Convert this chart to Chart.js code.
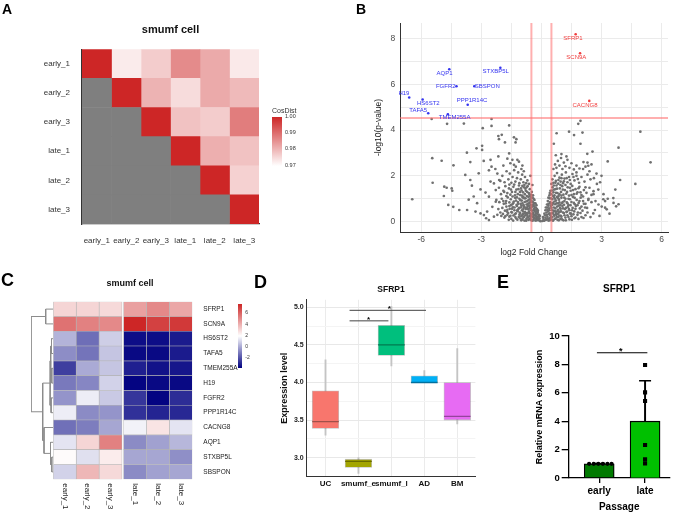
<!DOCTYPE html>
<html>
<head>
<meta charset="utf-8">
<script src="https://cdn.jsdelivr.net/npm/chart.js@4.4.1/dist/chart.umd.min.js"></script>
<style>
  body { margin:0; width:677px; height:514px; position:relative; overflow:hidden; background:#fff;
         font-family:"Liberation Sans", Arial, sans-serif; }
  canvas { position:absolute; }
  .panel { position:absolute; font-weight:bold; line-height:1; color:#000; }
  .cbt { position:absolute; line-height:1; color:#333; white-space:nowrap; }
</style>
</head>
<body>
<canvas id="chartA" width="340" height="260" style="left:0;top:0"></canvas>
<canvas id="chartB" width="337" height="260" style="left:340px;top:0"></canvas>
<canvas id="dendroC" width="26" height="254" style="left:28px;top:260px"></canvas>
<canvas id="chartC" width="260" height="254" style="left:0;top:260px"></canvas>
<canvas id="chartD" width="230" height="254" style="left:260px;top:260px"></canvas>
<canvas id="chartE" width="187" height="254" style="left:490px;top:260px"></canvas>

<div class="panel" style="left:2px;top:2px;font-size:14px">A</div>
<div class="panel" style="left:356px;top:2px;font-size:14px">B</div>
<div class="panel" style="left:1px;top:271px;font-size:18px">C</div>
<div class="panel" style="left:254px;top:273px;font-size:18px">D</div>
<div class="panel" style="left:497px;top:273px;font-size:18px">E</div>
<div id="legends"></div>

<script>
// ---------- data ----------
// A: cosine similarity between samples (upper triangle only)
const samplesA = ['early_1', 'early_2', 'early_3', 'late_1', 'late_2', 'late_3'];
const cosDist = [
  [1.000, 0.9727, 0.977, 0.986, 0.9817, 0.973],
  [null, 1.000, 0.9805, 0.9748, 0.9817, 0.9796],
  [null, null, 1.000, 0.9784, 0.977, 0.988],
  [null, null, null, 1.000, 0.981, 0.9784],
  [null, null, null, null, 1.000, 0.9763],
  [null, null, null, null, null, 1.000]
];
const cosTicks = [1.00, 0.99, 0.98, 0.97];

// B: volcano plot
const fcTicks = [-6, -3, 0, 3, 6];
const pTicks = [0, 2, 4, 6, 8];
const fcCut = [-0.5, 0.5];
const pCut = 4.53;
const upGenes = ['SFRP1', 'SCN9A', 'CACNG8'];
const upFC = [1.71, 1.93, 2.39];
const upLogP = [8.18, 7.35, 5.27];
const downGenes = ['AQP1', 'STXBP5L', 'FGFR2', 'SBSPON', 'H19', 'HS6ST2', 'PPP1R14C', 'TAFA5', 'TMEM255A'];
const downFC = [-4.6, -2.05, -4.24, -3.35, -6.6, -5.93, -3.68, -5.65, -4.67];
const downLogP = [6.65, 6.72, 5.91, 5.91, 5.42, 5.33, 5.1, 4.73, 4.69];
const bgGenes = [
  [-6.45,0.98],[-5.48,4.48],[-5.45,2.77],[-5.43,1.70],[-4.98,2.66],[-4.87,1.12],[-4.85,1.53],[-4.73,1.48],[-4.65,0.73],
  [-4.48,1.45],[-4.45,1.35],[-4.40,0.65],[-4.39,2.46],[-4.71,4.27],[-3.87,4.28],[-3.80,2.04],[-3.72,3.01],[-3.63,0.96],
  [-3.55,2.60],[-3.47,1.57],[-3.38,1.10],[-3.24,3.20],[-3.21,0.81],[-3.13,2.11],[-2.96,3.31],[-2.96,3.13],[-2.93,4.08],
  [-2.88,2.65],[-2.62,2.24],[-2.54,2.70],[-2.49,4.48],[-2.49,4.18],[-2.49,2.40],[-2.15,3.74],[-2.15,2.85],[-2.12,3.60],
  [-1.98,3.79],[-1.82,3.46],[-1.61,4.20],[-1.61,2.98],[-1.45,2.70],[-1.37,3.68],[-1.37,2.48],[-1.29,3.46],[-1.25,3.60],
  [-1.20,2.70],[-4.10,0.51],[-3.71,0.51],[-3.29,0.44],[-3.04,0.36],[-2.87,0.29],[-2.71,0.44],[-2.76,0.15],[-2.62,0.07],
  [-2.37,0.22],[-2.45,0.65],[-2.28,0.87],[-2.62,1.09],[-2.79,1.27],[-3.04,1.41],[-2.28,1.38],[-2.37,1.67],[-2.54,1.75],
  [-2.11,1.82],[-3.55,1.82],
  [-0.05,0.02],[-0.1,0.05],[-0.15,0.08],[-0.2,0.1],[-0.25,0.12],[-0.3,0.05],[-0.35,0.18],[-0.4,0.1],[-0.45,0.22],[-0.5,0.06],
  [-0.55,0.15],[-0.6,0.25],[-0.65,0.08],[-0.7,0.2],[-0.75,0.12],[-0.8,0.28],[-0.85,0.05],[-0.9,0.18],[-0.95,0.1],[-1.0,0.24],
  [-1.05,0.14],[-1.1,0.3],[-1.2,0.09],[-1.3,0.2],[-1.4,0.27],[-1.5,0.12],[-1.6,0.22],[-1.7,0.3],[-1.85,0.18],[-2.0,0.25],[-2.2,0.3],
  [-0.12,0.3],[-0.18,0.42],[-0.22,0.55],[-0.28,0.35],[-0.32,0.62],[-0.36,0.48],[-0.42,0.38],[-0.46,0.66],[-0.5,0.5],[-0.55,0.35],
  [-0.58,0.6],[-0.62,0.45],[-0.68,0.68],[-0.72,0.38],[-0.78,0.55],[-0.82,0.42],[-0.88,0.65],[-0.92,0.33],[-0.97,0.5],[-1.02,0.62],
  [-1.08,0.4],[-1.15,0.55],[-1.22,0.68],[-1.28,0.36],[-1.35,0.5],[-1.42,0.63],[-1.5,0.42],[-1.58,0.56],[-1.66,0.38],[-1.75,0.66],
  [-1.82,0.48],[-1.95,0.6],[-2.05,0.4],[-2.15,0.55],
  [-0.25,0.72],[-0.3,0.8],[-0.35,0.95],[-0.4,0.75],[-0.44,1.05],[-0.48,0.85],[-0.53,0.72],[-0.57,0.98],[-0.6,0.82],[-0.65,1.08],
  [-0.7,0.9],[-0.74,0.75],[-0.79,1.02],[-0.84,0.86],[-0.89,0.72],[-0.94,1.06],[-0.98,0.92],[-1.04,0.78],[-1.1,1.0],[-1.17,0.86],
  [-1.24,0.73],[-1.31,1.04],[-1.38,0.88],[-1.45,0.76],[-1.53,0.98],[-1.6,0.84],[-1.68,1.06],[-1.76,0.9],[-1.88,0.78],[-1.98,1.0],
  [-2.1,0.85],[-2.25,0.95],
  [-0.42,1.15],[-0.48,1.3],[-0.52,1.18],[-0.58,1.42],[-0.63,1.25],[-0.69,1.55],[-0.73,1.12],[-0.78,1.35],[-0.83,1.2],[-0.87,1.5],
  [-0.92,1.28],[-0.97,1.14],[-1.02,1.45],[-1.07,1.3],[-1.12,1.58],[-1.18,1.2],[-1.25,1.4],[-1.32,1.15],[-1.4,1.52],[-1.47,1.3],
  [-1.55,1.18],[-1.62,1.45],[-1.7,1.25],[-1.8,1.55],[-1.9,1.35],[-2.02,1.2],[-2.12,1.48],
  [-0.62,1.65],[-0.7,1.8],[-0.76,1.68],[-0.82,1.95],[-0.9,1.72],[-0.96,2.05],[-1.03,1.85],[-1.1,1.68],[-1.16,2.15],[-1.22,1.9],
  [-1.3,1.75],[-1.36,2.25],[-1.44,1.95],[-1.5,1.7],[-1.58,2.1],[-1.65,1.85],[-1.74,2.2],[-1.84,1.72],[-1.95,2.0],[-2.05,1.78],
  [-2.2,2.1],[-1.0,2.3],[-1.28,2.4],[-0.88,2.2],[-1.9,2.45],[-1.55,2.55],[-1.12,2.62],[-0.95,2.45],[-1.7,2.75],[-2.3,2.3],
  [-0.55,2.0],[-0.45,1.6],
  [-0.15,0.25],[-0.2,0.35],[-0.22,0.2],[-0.26,0.45],[-0.3,0.28],[-0.33,0.52],[-0.38,0.68],[-0.4,0.3],[-0.43,0.85],[-0.47,0.48],
  [-0.5,0.92],[-0.54,0.58],[-0.56,1.1],[-0.6,0.7],[-0.64,0.95],[-0.68,0.55],[-0.1,0.15],[-0.08,0.25],[-0.18,0.5],[-0.28,0.62],
  [-0.35,0.8],[-0.39,1.0],
  [-0.12,0.1],[-0.17,0.18],[-0.23,0.06],[-0.27,0.24],[-0.32,0.14],[-0.37,0.3],[-0.41,0.2],[-0.44,0.04],[-0.48,0.34],[-0.52,0.24],
  [-0.57,0.1],[-0.61,0.38],[-0.66,0.18],[-0.71,0.3],[-0.76,0.04],[-0.81,0.36],[-0.86,0.22],[-0.91,0.44],[-0.96,0.28],[-1.01,0.06],
  [-1.06,0.36],[-1.13,0.2],[-1.19,0.46],[-1.26,0.14],[-1.33,0.32],[-1.41,0.05],[-1.47,0.4],[-1.55,0.26],[-1.63,0.08],[-1.72,0.44],
  [-1.8,0.24],[-1.92,0.34],
  [-0.3,0.42],[-0.38,0.56],[-0.45,0.72],[-0.52,0.62],[-0.56,0.84],[-0.63,0.56],[-0.67,0.78],[-0.73,0.62],[-0.77,0.88],[-0.81,0.62],
  [-0.86,1.02],[-0.9,0.56],[-0.95,0.8],[-1.0,0.7],[-1.05,0.94],[-1.11,0.6],[-1.16,0.78],[-1.21,0.5],[-1.27,0.92],[-1.34,0.62],
  [-1.4,0.82],[-1.46,0.56],[-1.52,0.72],[-1.6,0.68],[-1.7,0.52],[-1.78,0.8],[-1.9,0.9],
  [-0.5,1.05],[-0.6,1.18],[-0.71,1.3],[-0.8,1.44],[-0.9,1.08],[-0.99,1.36],[-1.06,1.16],[-1.15,1.42],[-1.22,1.06],[-1.3,1.3],
  [-1.36,1.62],[-1.44,1.1],[-1.52,1.4],[-1.6,1.62],[-1.75,1.12],[-1.86,1.3],[-0.74,1.5],[-0.85,1.6],[-0.95,1.56],
  [0.05,0.03],[0.1,0.12],[0.15,0.06],[0.2,0.18],[0.25,0.1],[0.3,0.22],[0.35,0.05],[0.4,0.15],[0.45,0.28],[0.5,0.1],[0.55,0.2],
  [0.6,0.07],[0.65,0.26],[0.7,0.14],[0.75,0.3],[0.8,0.08],[0.85,0.2],[0.9,0.27],[0.95,0.12],[1.0,0.22],[1.1,0.06],[1.2,0.18],
  [1.3,0.28],[1.4,0.1],[1.5,0.24],[1.65,0.15],[1.8,0.3],[2.0,0.2],[2.2,0.28],
  [0.15,0.35],[0.2,0.5],[0.25,0.4],[0.28,0.62],[0.33,0.45],[0.38,0.58],[0.42,0.36],[0.47,0.68],[0.52,0.5],[0.57,0.38],[0.62,0.62],
  [0.67,0.46],[0.72,0.34],[0.78,0.66],[0.83,0.52],[0.88,0.4],[0.93,0.6],[0.98,0.45],[1.05,0.68],[1.12,0.38],[1.18,0.55],[1.25,0.42],
  [1.32,0.65],[1.4,0.5],[1.48,0.35],[1.56,0.6],[1.64,0.45],[1.72,0.68],[1.82,0.4],[1.92,0.58],[2.05,0.48],[2.18,0.62],[2.3,0.4],
  [0.28,0.75],[0.32,0.9],[0.36,0.78],[0.4,1.02],[0.44,0.85],[0.5,0.72],[0.54,0.98],[0.58,0.82],[0.63,1.06],[0.68,0.76],[0.73,0.92],
  [0.78,1.08],[0.83,0.8],[0.88,0.96],[0.94,0.72],[1.0,1.04],[1.06,0.86],[1.13,0.74],[1.2,1.0],[1.27,0.84],[1.35,0.72],[1.42,0.98],
  [1.5,0.86],[1.58,1.08],[1.67,0.76],[1.76,0.95],[1.86,0.82],[1.96,1.05],[2.08,0.9],[2.2,0.78],[2.35,1.0],[2.5,0.85],
  [0.4,1.15],[0.45,1.35],[0.5,1.2],[0.55,1.5],[0.6,1.28],[0.65,1.15],[0.7,1.42],[0.75,1.58],[0.8,1.25],[0.86,1.12],[0.92,1.45],
  [0.98,1.3],[1.04,1.55],[1.1,1.18],[1.17,1.38],[1.24,1.22],[1.31,1.5],[1.38,1.14],[1.46,1.35],[1.54,1.56],[1.62,1.2],[1.7,1.42],
  [1.8,1.28],[1.9,1.52],[2.0,1.16],[2.12,1.38],[2.25,1.26],[2.4,1.48],[2.6,1.2],
  [0.5,1.65],[0.55,1.85],[0.6,1.7],[0.66,2.0],[0.72,1.78],[0.78,2.12],[0.84,1.66],[0.9,1.92],[0.96,1.75],[1.02,2.05],[1.08,1.68],
  [1.15,1.88],[1.22,2.15],[1.3,1.72],[1.38,1.95],[1.46,1.65],[1.55,2.08],[1.65,1.8],[1.75,2.0],[1.88,1.7],[2.0,1.95],[2.15,1.75],
  [2.3,2.05],[2.45,1.85],
  [0.6,2.3],[0.68,2.5],[0.75,2.35],[0.82,2.65],[0.9,2.45],[0.98,2.78],[1.05,2.3],[1.12,2.58],[1.2,2.42],[1.3,2.7],[1.4,2.35],
  [1.5,2.55],[1.62,2.28],[1.75,2.45],[1.9,2.32],[2.1,2.6],[0.72,2.9],[1.0,2.95],[1.25,2.85],
  [0.08,0.2],[0.13,0.04],[0.18,0.28],[0.22,0.08],[0.27,0.3],[0.32,0.12],[0.37,0.34],[0.42,0.06],[0.47,0.2],[0.52,0.36],[0.57,0.04],
  [0.62,0.3],[0.67,0.12],[0.72,0.42],[0.77,0.2],[0.82,0.34],[0.87,0.06],[0.92,0.44],[0.97,0.26],[1.03,0.1],[1.08,0.4],[1.15,0.28],
  [1.22,0.06],[1.28,0.44],[1.35,0.2],[1.43,0.36],[1.52,0.08],[1.6,0.32],[1.7,0.18],[1.85,0.12],[1.95,0.38],[2.1,0.16],
  [0.22,0.62],[0.3,0.52],[0.35,0.7],[0.4,0.5],[0.45,0.8],[0.5,0.6],[0.55,0.74],[0.6,0.48],[0.65,0.88],[0.7,0.58],[0.75,0.8],
  [0.8,0.46],[0.86,0.7],[0.9,0.84],[0.96,0.56],[1.02,0.8],[1.08,0.58],[1.15,0.9],[1.22,0.6],[1.3,0.8],[1.37,0.56],[1.45,0.72],
  [1.53,0.5],[1.62,0.82],[1.7,0.56],[1.8,0.72],[1.9,0.9],[2.0,0.66],[2.12,0.78],[2.28,0.6],
  [0.35,1.05],[0.42,1.25],[0.48,1.02],[0.53,1.36],[0.58,1.12],[0.63,1.4],[0.68,1.0],[0.73,1.26],[0.78,1.44],[0.84,1.02],[0.9,1.2],
  [0.95,1.6],[1.0,1.14],[1.07,1.4],[1.14,1.05],[1.2,1.6],[1.28,1.3],[1.35,1.0],[1.42,1.48],[1.5,1.16],[1.58,1.38],[1.66,1.04],
  [1.76,1.22],[1.85,1.46],[1.95,1.28],[2.08,1.1],[2.2,1.5],[0.62,1.58],[0.7,1.7],[0.85,1.82],[1.0,1.9],[1.12,1.76],[1.26,1.9],
  [1.42,1.82],[1.6,1.95],[1.82,1.86],
  [1.95,4.4],[1.84,4.27],[0.76,3.86],[1.38,3.93],[1.63,3.78],[2.05,3.89],[0.62,3.4],[1.95,3.4],[4.94,3.93],[3.85,3.23],
  [2.29,2.96],[2.55,3.06],[3.31,2.63],[5.45,2.59],[3.93,1.82],[2.93,1.72],[4.69,1.65],[3.69,1.4],[3.31,1.0],[3.09,0.98],
  [3.85,0.76],[3.6,0.82],[3.18,0.61],[3.26,0.54],[2.3,2.58],[2.34,2.44],[2.08,2.3],[1.75,2.15],[2.77,1.65],[2.6,1.33],
  [3.1,1.2],[3.18,0.9],[3.59,1.03],[3.73,0.67],[2.67,0.51],[2.59,0.36],[3.01,0.66],[2.34,0.95],[2.5,1.17],[2.84,1.4],
  [2.7,0.9],[2.9,0.25],[2.45,0.2],[2.62,1.9],[2.4,2.2],[2.75,2.1],[2.2,2.4],[2.5,2.5],[3.0,2.0],[2.85,0.75],[3.4,0.35]
];

// C: expression heatmap
const colsC = ['early_1', 'early_2', 'early_3', 'late_1', 'late_2', 'late_3'];
const genesC = ['SFRP1', 'SCN9A', 'HS6ST2', 'TAFA5', 'TMEM255A', 'H19', 'FGFR2', 'PPP1R14C', 'CACNG8', 'AQP1', 'STXBP5L', 'SBSPON'];
const exprC = [
  [3.0, 3.0, 2.9, 4.4, 5.0, 4.2],
  [5.6, 5.2, 5.0, 7.6, 6.9, 7.1],
  [0.2, -1.35, 0.8, -3.5, -3.5, -3.2],
  [-0.65, -1.2, 0.6, -3.6, -3.6, -3.2],
  [-2.4, 0.0, 0.6, -3.1, -3.4, -3.3],
  [-1.1, -0.8, 0.9, -3.7, -3.6, -3.6],
  [-0.5, 1.5, 0.7, -2.6, -3.7, -2.8],
  [1.5, -0.7, -0.5, -2.7, -3.0, -2.9],
  [-1.3, -1.0, -0.1, 1.6, 2.6, 1.3],
  [1.3, 3.0, 5.2, -0.7, -0.2, 0.3],
  [2.0, 1.2, 2.4, -0.1, -0.1, -0.6],
  [0.9, 3.8, 2.9, -0.7, -0.2, -0.1]
];
const heatRange = [-3.8, 7.6];
const heatTicks = [6, 4, 2, 0, -2];
// row dendrogram: [childA, childB, height]; numbers are rows, 'mK' is merge K
const dendroMerges = [
  [0, 1, 7.6], [2, 3, 1.8], [4, 5, 1.5], ['m1', 'm2', 2.6], [6, 7, 2.2], ['m3', 'm4', 3.2],
  [10, 11, 1.5], [9, 'm6', 2.8], [8, 'm7', 9.3], ['m5', 'm8', 10.6], ['m0', 'm9', 22.3]
];

// D: box plot
const groupsD = ['UC', 'smumf_e', 'smumf_l', 'AD', 'BM'];
const boxMin = [3.30, 2.79, 4.22, 4.00, 3.45];
const boxQ1  = [3.39, 2.87, 4.36, 4.00, 3.50];
const boxMed = [3.48, 2.95, 4.50, 4.00, 3.55];
const boxQ3  = [3.89, 2.98, 4.76, 4.09, 4.00];
const boxMax = [4.30, 3.00, 5.01, 4.16, 4.45];
const yTicksD = [3.0, 3.5, 4.0, 4.5, 5.0];
const sigBracketsD = [[0.73, 1.91, 4.82], [0.73, 3.05, 4.96]];
const sigStarsD = [[1.31, 4.875], [1.94, 5.017]];

// E: qPCR bars
const passages = ['early', 'late'];
const meanE = [1.0, 4.0];
const sdE = [0.03, 2.85];
const earlyPts = [1.0, 1.0, 1.0, 1.0, 1.0, 1.0];
const latePts = [7.96, 6.03, 5.42, 2.32, 1.32, 1.03];
const sigBracketE = [-0.05, 1.05, 8.82];
const sigStarE = [0.47, 9.13];

// ---------- style ----------
const FONT = '"Liberation Sans", Arial, sans-serif';
Chart.defaults.font.family = FONT;
Chart.defaults.color = '#333';
Chart.defaults.animation = false;
Chart.defaults.responsive = false;
Chart.defaults.events = [];
Chart.defaults.plugins.legend.display = false;
Chart.defaults.plugins.tooltip.enabled = false;

const lerp = (a, b, t) => a.map((v, i) => Math.round(v + (b[i] - v) * Math.max(0, Math.min(1, t))));
const rgb = c => `rgb(${c[0]},${c[1]},${c[2]})`;
const WHITE = [255, 255, 255], FIRE = [205, 38, 38], NAVY = [0, 0, 128];
function cosColor(v) {
  if (v == null) return '#7F7F7F';
  return rgb(lerp(WHITE, FIRE, (v - 0.97) / 0.03));
}
function heatColor(v) {
  const lo = heatRange[0], hi = heatRange[1], mid = (lo + hi) / 2;
  return v < mid ? rgb(lerp(NAVY, WHITE, (v - lo) / (mid - lo))) : rgb(lerp(WHITE, FIRE, (v - mid) / (hi - mid)));
}
const fixW = w => s => { s.width = w; };
const fixH = h => s => { s.height = h; };

const heatGap = 0.07;
const fcGrid = [-6, -4.5, -3, -1.5, 0, 1.5, 3, 4.5, 6];
const pGrid = [0, 1, 2, 3, 4, 5, 6, 7, 8];
const yMinorD = [2.75, 3.25, 3.75, 4.25, 4.75];
const boxColors = ['#F8766D', '#A3A500', '#00BF7D', '#00B0F6', '#E76BF3'];
const medColors = ['#A0504A', '#6A6B00', '#007A50', '#00709E', '#94449C'];
const earlyJitter = [-0.22, -0.12, -0.02, 0.08, 0.18, 0.27];
// label offsets from their point, in px (text centre)
const upLabelOff = [[-2.7, 4], [-3.7, 3.7], [-4.3, 4.3]];
const downLabelOff = [[-4.7, 4], [-4.6, 3.3], [-10.7, 0], [13, 0], [-5.3, -3.7], [5.7, 4], [4.3, -4], [-10, -3.3], [6.7, 3.4]];

function starPlugin(stars, size) {
  return {
    id: 'stars',
    afterDatasetsDraw(chart) {
      const { ctx, scales: { x, y } } = chart;
      ctx.save();
      ctx.font = `bold ${size}px ${FONT}`;
      ctx.fillStyle = '#000';
      ctx.textAlign = 'center';
      ctx.textBaseline = 'alphabetic';
      stars.forEach(s => ctx.fillText('*', x.getPixelForValue(s[0]), y.getPixelForValue(s[1]) + size * 0.6));
      ctx.restore();
    }
  };
}

// ---------- A ----------
new Chart(document.getElementById('chartA'), {
  type: 'bar',
  data: {
    labels: samplesA,
    datasets: samplesA.map((c, j) => ({
      data: samplesA.map(() => 1),
      backgroundColor: samplesA.map((r, i) => cosColor(cosDist[i][j])),
      xAxisID: 'x', yAxisID: 'y', barPercentage: 1, categoryPercentage: 1
    }))
  },
  options: {
    indexAxis: 'y',
    layout: { padding: { left: 0, right: 81, top: 0, bottom: 0 } },
    plugins: {
      title: { display: true, text: 'smumf cell', fullSize: false, color: '#111', font: { size: 11, weight: 'bold' }, padding: { top: 23, bottom: 13 } }
    },
    scales: {
      x: { type: 'linear', stacked: true, min: 0, max: 6, display: false },
      xLab: {
        type: 'category', axis: 'x', position: 'bottom', labels: samplesA, offset: true, z: 1,
        grid: { display: false }, border: { display: true, color: '#333', width: 1.2 },
        ticks: { font: { size: 8 }, color: '#333', padding: 4, maxRotation: 0, autoSkip: false },
        afterFit: fixH(36)
      },
      y: {
        stacked: true, z: 1, grid: { display: false }, border: { display: true, color: '#333', width: 1.2 },
        ticks: { font: { size: 8 }, color: '#333', padding: 4 },
        afterFit: fixW(82)
      }
    }
  }
});

// ---------- B ----------
const lineSet = (pts, color) => ({ type: 'line', data: pts, borderColor: color, borderWidth: 2, pointRadius: 0, order: 1 });
new Chart(document.getElementById('chartB'), {
  type: 'scatter',
  data: {
    datasets: [
      { data: bgGenes.map(p => ({ x: p[0], y: p[1] })), pointRadius: 1.35, backgroundColor: '#707070', borderWidth: 0, order: 3 },
      lineSet([{ x: fcCut[0], y: -1 }, { x: fcCut[0], y: 10 }], 'rgba(255,110,110,0.55)'),
      lineSet([{ x: fcCut[1], y: -1 }, { x: fcCut[1], y: 10 }], 'rgba(255,110,110,0.55)'),
      lineSet([{ x: -8, y: pCut }, { x: 7, y: pCut }], 'rgba(255,110,110,0.55)'),
      { data: downGenes.map((g, i) => ({ x: downFC[i], y: downLogP[i] })), pointRadius: 1.3, backgroundColor: '#3434F0', borderWidth: 0, order: 0 },
      { data: upGenes.map((g, i) => ({ x: upFC[i], y: upLogP[i] })), pointRadius: 1.3, backgroundColor: '#F03C3C', borderWidth: 0, order: 0 }
    ]
  },
  options: {
    layout: { padding: { left: 0, right: 9, top: 23, bottom: 0 } },
    scales: {
      x: {
        type: 'linear', min: -7.06, max: 6.32,
        afterBuildTicks: s => { s.ticks = fcGrid.map(v => ({ value: v })); },
        ticks: { callback: v => fcTicks.includes(v) ? String(v) : '', font: { size: 8.5 }, color: '#4D4D4D', padding: 3, maxRotation: 0, autoSkip: false },
        grid: { color: '#EBEBEB', drawTicks: false },
        border: { color: '#333', width: 1 },
        title: { display: true, text: 'log2 Fold Change', font: { size: 8.5 }, color: '#222', padding: { top: 0, bottom: 2.6 } },
        afterFit: fixH(28)
      },
      y: {
        type: 'linear', min: -0.45, max: 8.67,
        afterBuildTicks: s => { s.ticks = pGrid.map(v => ({ value: v })); },
        ticks: { callback: v => pTicks.includes(v) ? String(v) : '', font: { size: 8.5 }, color: '#4D4D4D', padding: 4.7, autoSkip: false },
        grid: { color: '#EBEBEB', drawTicks: false },
        border: { color: '#333', width: 1 },
        title: { display: true, text: '-log10(p-value)', font: { size: 8.5 }, color: '#222', padding: { top: 33.2, bottom: 0 } },
        afterFit: fixW(60)
      }
    }
  },
  plugins: [{
    id: 'geneLabels',
    afterDatasetsDraw(chart) {
      const { ctx, scales: { x, y } } = chart;
      ctx.save();
      ctx.font = `6px ${FONT}`;
      ctx.textAlign = 'center';
      ctx.textBaseline = 'middle';
      ctx.fillStyle = '#3434F0';
      downGenes.forEach((g, i) => ctx.fillText(g, x.getPixelForValue(downFC[i]) + downLabelOff[i][0], y.getPixelForValue(downLogP[i]) + downLabelOff[i][1]));
      ctx.fillStyle = '#F03C3C';
      upGenes.forEach((g, i) => ctx.fillText(g, x.getPixelForValue(upFC[i]) + upLabelOff[i][0], y.getPixelForValue(upLogP[i]) + upLabelOff[i][1]));
      ctx.restore();
    }
  }]
});

// ---------- C ----------
const nodes = {};
const nodeOf = k => typeof k === 'number' ? { y: k, h: 0 } : nodes[k];
const dendroSets = dendroMerges.map((m, i) => {
  const a = nodeOf(m[0]), b = nodeOf(m[1]);
  nodes['m' + i] = { y: (a.y + b.y) / 2, h: m[2] };
  return {
    data: [{ x: a.h, y: a.y }, { x: m[2], y: a.y }, { x: m[2], y: b.y }, { x: b.h, y: b.y }],
    showLine: true, pointRadius: 0, borderColor: '#8C8C8C', borderWidth: 1
  };
});
new Chart(document.getElementById('dendroC'), {
  type: 'scatter',
  data: { datasets: dendroSets },
  options: {
    layout: { padding: { left: 3, right: 0.7, top: 41.7, bottom: 34.7 } },
    scales: {
      x: { type: 'linear', min: 0, max: 22.3, reverse: true, display: false },
      y: { type: 'linear', min: -0.5, max: 11.5, reverse: true, display: false }
    }
  }
});

const heatSets = [];
colsC.forEach((c, j) => {
  if (j === 3) heatSets.push({ data: genesC.map(() => heatGap), backgroundColor: 'rgba(0,0,0,0)', borderWidth: 0, xAxisID: 'x', yAxisID: 'y', barPercentage: 1, categoryPercentage: 1 });
  heatSets.push({
    data: genesC.map(() => 1),
    backgroundColor: genesC.map((g, i) => heatColor(exprC[i][j])),
    borderColor: '#B4B4B4', borderWidth: 0.6, borderSkipped: false,
    xAxisID: 'x', yAxisID: 'y', barPercentage: 1, categoryPercentage: 1
  });
});
new Chart(document.getElementById('chartC'), {
  type: 'bar',
  data: { labels: genesC, datasets: heatSets },
  options: {
    indexAxis: 'y',
    layout: { padding: { left: 0, right: 0, top: 0, bottom: 34.7 } },
    plugins: {
      title: { display: true, text: 'smumf cell', color: '#111', font: { size: 9, weight: 'bold' }, padding: { top: 17.9, bottom: 13 } }
    },
    scales: {
      x: { type: 'linear', stacked: true, min: 0, max: 6 + heatGap, display: false },
      yPad: { type: 'linear', axis: 'y', position: 'left', grid: { display: false }, border: { display: false }, ticks: { display: false }, afterFit: fixW(53.3) },
      y: {
        type: 'category', position: 'right', stacked: true,
        grid: { display: false }, border: { display: false },
        ticks: { font: { size: 6.5 }, color: '#222', padding: 3, autoSkip: false },
        afterFit: fixW(67.7)
      }
    }
  },
  plugins: [{
    id: 'colLabels',
    afterDraw(chart) {
      const { ctx, chartArea, scales: { x } } = chart;
      ctx.save();
      ctx.font = `8px ${FONT}`;
      ctx.fillStyle = '#222';
      ctx.textAlign = 'left';
      ctx.textBaseline = 'middle';
      colsC.forEach((c, j) => {
        const px = x.getPixelForValue(j + (j >= 3 ? heatGap : 0) + 0.5);
        ctx.save();
        ctx.translate(px, chartArea.bottom + 4);
        ctx.rotate(Math.PI / 2);
        ctx.fillText(c, 0, 0);
        ctx.restore();
      });
      ctx.restore();
    }
  }]
});

// ---------- D ----------
new Chart(document.getElementById('chartD'), {
  type: 'bar',
  data: {
    datasets: [
      { data: groupsD.map((g, i) => ({ x: i, y: [boxMin[i], boxMax[i]] })), backgroundColor: '#C4C4C4', barThickness: 1.2, grouped: false, order: 4 },
      { data: groupsD.map((g, i) => ({ x: i, y: [boxQ1[i], boxQ3[i]] })), backgroundColor: boxColors, borderColor: 'rgba(80,80,80,0.35)', borderWidth: 0.8, borderSkipped: false, barThickness: 26.7, grouped: false, order: 3 },
      { type: 'scatter', data: groupsD.map((g, i) => ({ x: i, y: boxMed[i] })), pointStyle: 'line', pointRadius: 13.3, borderColor: medColors, borderWidth: 1.3, order: 2 },
      ...sigBracketsD.map(b => ({ type: 'line', data: [{ x: b[0], y: b[2] }, { x: b[1], y: b[2] }], borderColor: '#444', borderWidth: 1, pointRadius: 0, order: 1 }))
    ]
  },
  options: {
    layout: { padding: { left: 0, right: 4, top: 0, bottom: 0 } },
    plugins: {
      title: { display: true, text: 'SFRP1', fullSize: false, color: '#111', font: { size: 8.5, weight: 'bold' }, padding: { top: 24.2, bottom: 5.4 } }
    },
    scales: {
      x: {
        type: 'linear', min: -0.571, max: 4.55, offset: false,
        afterBuildTicks: s => { s.ticks = groupsD.map((g, i) => ({ value: i })); },
        ticks: { callback: v => groupsD[v], font: { size: 8, weight: 'bold' }, color: '#111', padding: 2.5, maxRotation: 0, autoSkip: false },
        grid: { color: '#EBEBEB', drawTicks: false, offset: false },
        border: { color: '#333', width: 1 },
        afterFit: fixH(37.3)
      },
      y: {
        type: 'linear', min: 2.747, max: 5.1,
        afterBuildTicks: s => { s.ticks = yTicksD.concat(yMinorD).sort((a, b) => a - b).map(v => ({ value: v })); },
        ticks: { callback: v => yTicksD.includes(v) ? v.toFixed(1) : '', font: { size: 7, weight: 'bold' }, color: '#222', padding: 3, autoSkip: false },
        grid: { color: c => yTicksD.includes(c.tick.value) ? '#E8E8E8' : '#F4F4F4', drawTicks: false },
        border: { color: '#333', width: 1 },
        title: { display: true, text: 'Expression level', color: '#111', font: { size: 9, weight: 'bold' }, padding: { top: 19.1, bottom: 0 } },
        afterFit: fixW(46.7)
      }
    }
  },
  plugins: [starPlugin(sigStarsD, 8)]
});

// ---------- E ----------
new Chart(document.getElementById('chartE'), {
  type: 'bar',
  data: {
    datasets: [
      { data: passages.map((p, i) => ({ x: i, y: meanE[i] })), backgroundColor: ['#007A00', '#00C000'], borderColor: '#000', borderWidth: 1.3, barThickness: 30, grouped: false, order: 4 },
      { data: passages.map((p, i) => ({ x: i, y: [meanE[i], meanE[i] + sdE[i]] })), backgroundColor: '#000', barThickness: 1.3, grouped: false, order: 3 },
      { type: 'scatter', data: passages.map((p, i) => ({ x: i, y: meanE[i] + sdE[i] })), pointStyle: 'line', pointRadius: 6, borderColor: '#000', borderWidth: 1.3, order: 2 },
      { type: 'scatter', data: earlyPts.map((v, k) => ({ x: earlyJitter[k], y: v })), pointStyle: 'circle', pointRadius: 2.1, backgroundColor: '#000', borderWidth: 0, order: 1 },
      { type: 'scatter', data: latePts.map(v => ({ x: 1, y: v })), pointStyle: 'rect', pointRadius: 2.9, backgroundColor: '#000', borderWidth: 0, order: 1 },
      { type: 'line', data: [{ x: sigBracketE[0], y: sigBracketE[2] }, { x: sigBracketE[1], y: sigBracketE[2] }], borderColor: '#000', borderWidth: 1, pointRadius: 0, order: 0 }
    ]
  },
  options: {
    layout: { padding: { left: 0, right: 7, top: 0, bottom: 0 } },
    plugins: {
      title: { display: true, text: 'SFRP1', fullSize: false, color: '#000', font: { size: 10, weight: 'bold' }, padding: { top: 23, bottom: 41 } }
    },
    scales: {
      x: {
        type: 'linear', min: -0.665, max: 1.537, offset: false,
        afterBuildTicks: s => { s.ticks = passages.map((p, i) => ({ value: i })); },
        ticks: { callback: v => passages[v], font: { size: 10, weight: 'bold' }, color: '#000', padding: 2, maxRotation: 0, autoSkip: false },
        grid: { drawOnChartArea: false, tickLength: 5, color: '#000', lineWidth: 1.3, offset: false },
        border: { color: '#000', width: 1.3 },
        title: { display: true, text: 'Passage', color: '#000', font: { size: 10, weight: 'bold' }, padding: { top: 0, bottom: 1 } },
        afterFit: fixH(36)
      },
      y: {
        type: 'linear', min: 0, max: 10,
        ticks: { stepSize: 2, font: { size: 9.5, weight: 'bold' }, color: '#000', padding: 2 },
        grid: { drawOnChartArea: false, tickLength: 7, color: '#000', lineWidth: 1.3 },
        border: { color: '#000', width: 1.3 },
        title: { display: true, text: 'Relative mRNA expression', color: '#000', font: { size: 9, weight: 'bold' }, padding: { top: 44.6, bottom: 0 } },
        afterFit: fixW(78.7)
      }
    }
  },
  plugins: [starPlugin([sigStarE], 9)]
});

// ---------- colour bar legends ----------
const legends = document.getElementById('legends');
function addDiv(style, text, cls) {
  const d = document.createElement('div');
  if (cls) d.className = cls;
  d.style.cssText = 'position:absolute;' + style;
  if (text != null) d.textContent = text;
  legends.appendChild(d);
}
// A legend
(function () {
  const x = 272, y = 116.7, w = 10, h = 49, lo = 0.97, hi = 1.00;
  addDiv(`left:${x}px;top:107.4px;font-size:7px;`, 'CosDist', 'cbt');
  addDiv(`left:${x}px;top:${y}px;width:${w}px;height:${h}px;background:linear-gradient(to bottom, ${cosColor(hi)}, ${cosColor(lo)});`);
  cosTicks.forEach(v => {
    const py = y + (hi - v) / (hi - lo) * h;
    addDiv(`left:${x + w + 3}px;top:${py - 3}px;font-size:5.5px;`, v.toFixed(2), 'cbt');
  });
})();
// C legend
(function () {
  const x = 238.3, y = 304.3, w = 4, h = 63.4, lo = heatRange[0], hi = heatRange[1];
  addDiv(`left:${x}px;top:${y}px;width:${w}px;height:${h}px;background:linear-gradient(to bottom, ${heatColor(hi)}, ${heatColor((lo + hi) / 2)}, ${heatColor(lo)});`);
  heatTicks.forEach(v => {
    const py = y + (hi - v) / (hi - lo) * h;
    addDiv(`left:${x + w + 3}px;top:${py - 2.7}px;font-size:5px;`, String(v), 'cbt');
  });
})();
</script>
</body>
</html>
